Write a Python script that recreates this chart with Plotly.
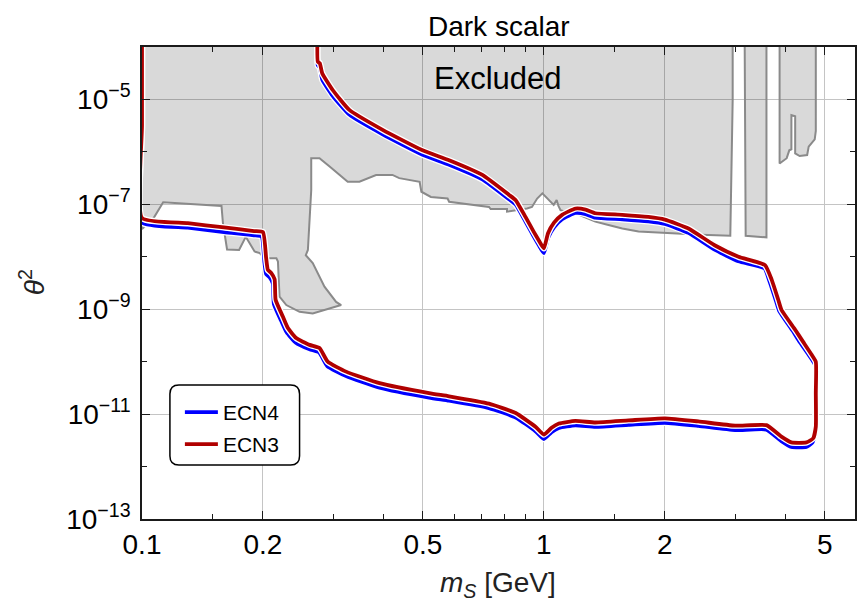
import plotly.graph_objects as go

# ---------------------------------------------------------------------------
# Sensitivity contours: scalar mass m_S [GeV] and log10(theta^2)
# ---------------------------------------------------------------------------
ecn3_mass = [0.1, 0.1, 0.1, 0.13, 0.16, 0.19, 0.2, 0.2037, 0.2057, 0.2098,
             0.2138, 0.2150, 0.2241, 0.2307, 0.2419, 0.2612, 0.2765, 0.2898, 0.322, 0.39,
             0.518, 0.581, 0.73, 0.851, 0.953, 1.0, 1.045, 1.09, 1.198, 1.343,
             1.625, 2.0, 2.424, 2.99, 3.58, 3.90, 4.13, 4.50, 4.68, 4.75,
             4.75, 4.75, 4.64, 4.38, 4.22, 3.90, 3.83, 3.69, 3.55, 3.05,
             2.66, 2.29, 2.0, 1.82, 1.567, 1.343, 1.27, 1.198, 1.11, 1.06,
             1.024, 1.0, 0.97, 0.943, 0.90, 0.851, 0.819, 0.703, 0.581, 0.499,
             0.397, 0.328, 0.2982, 0.2808, 0.277, 0.2738, 0.2738]
ecn3_log_theta2 = [-3.5, -5.5, -7.26, -7.36, -7.44, -7.51, -7.53, -8.03, -8.25, -8.31,
                   -8.43, -8.82, -9.14, -9.36, -9.55, -9.68, -9.74, -10.0, -10.19, -10.41,
                   -10.6, -10.66, -10.80, -10.98, -11.24, -11.39, -11.26, -11.18, -11.13, -11.16,
                   -11.12, -11.08, -11.14, -11.22, -11.21, -11.43, -11.54, -11.54, -11.46, -11.24,
                   -10.6, -10.0, -9.87, -9.58, -9.39, -9.01, -8.82, -8.44, -8.16, -8.0,
                   -7.78, -7.46, -7.29, -7.24, -7.2, -7.17, -7.1, -7.08, -7.2, -7.35,
                   -7.55, -7.84, -7.68, -7.52, -7.24, -6.92, -6.82, -6.44, -6.16, -5.97,
                   -5.58, -5.2, -4.82, -4.5, -4.31, -4.28, -3.5]

ecn4_mass = [0.1, 0.1, 0.1, 0.13, 0.16, 0.19, 0.1985, 0.2017, 0.2037, 0.2078,
             0.2117, 0.2129, 0.2220, 0.2290, 0.2410, 0.2612, 0.2760, 0.2890, 0.322, 0.39,
             0.518, 0.581, 0.73, 0.851, 0.953, 1.0, 1.045, 1.09, 1.198, 1.343,
             1.625, 2.0, 2.424, 2.99, 3.58, 3.90, 4.13, 4.50, 4.66, 4.73,
             4.73, 4.72, 4.58, 4.31, 4.16, 3.85, 3.78, 3.64, 3.54, 3.05,
             2.66, 2.29, 2.0, 1.82, 1.567, 1.343, 1.27, 1.198, 1.11, 1.06,
             1.024, 1.0, 0.97, 0.943, 0.90, 0.851, 0.819, 0.703, 0.581, 0.499,
             0.397, 0.328, 0.2982, 0.2808, 0.277, 0.2738, 0.2738]
ecn4_log_theta2 = [-3.5, -5.5, -7.345, -7.445, -7.53, -7.59, -7.615, -8.11, -8.33, -8.39,
                   -8.51, -8.90, -9.22, -9.44, -9.635, -9.765, -9.825, -10.085, -10.275, -10.495,
                   -10.685, -10.745, -10.885, -11.065, -11.325, -11.475, -11.345, -11.265, -11.215, -11.245,
                   -11.205, -11.165, -11.225, -11.305, -11.295, -11.515, -11.625, -11.625, -11.54, -11.31,
                   -10.6, -10.05, -9.89, -9.60, -9.41, -9.03, -8.84, -8.46, -8.22, -8.085,
                   -7.865, -7.545, -7.375, -7.325, -7.285, -7.255, -7.185, -7.165, -7.285, -7.44,
                   -7.64, -7.93, -7.77, -7.61, -7.33, -7.005, -6.905, -6.525, -6.245, -6.055,
                   -5.665, -5.29, -4.93, -4.62, -4.39, -4.35, -3.5]

# ---------------------------------------------------------------------------
# Excluded regions (existing bounds), outlines as mass / log10(theta^2)
# ---------------------------------------------------------------------------
excl_main_mass = [0.1, 0.1, 0.1067, 0.1129, 0.1577, 0.159, 0.1628, 0.1744, 0.1812, 0.1906,
                  0.1963, 0.2020, 0.2078, 0.2160, 0.2179, 0.2199, 0.2286, 0.2467, 0.266, 0.2872,
                  0.313, 0.3041, 0.2845, 0.266, 0.2556, 0.2587, 0.2637, 0.2637, 0.2765, 0.293,
                  0.325, 0.3475, 0.3823, 0.42, 0.4366, 0.4907, 0.4957, 0.5234, 0.576, 0.581,
                  0.7302, 0.7373, 0.8096, 0.8096, 0.8665, 0.9078, 0.934, 0.9623, 0.9914, 1.024,
                  1.058, 1.076, 1.087, 1.1, 1.1317, 1.198, 1.29, 1.343, 1.44, 1.567,
                  1.72, 2.0, 2.46, 2.91, 2.95, 2.95]
excl_main_log = [-3.9, -7.47, -7.27, -6.96, -7.03, -7.36, -7.86, -7.87, -7.62, -7.90,
                 -7.93, -8.03, -8.03, -8.03, -8.09, -8.76, -8.92, -9.05, -9.08, -9.01,
                 -8.92, -8.86, -8.57, -8.12, -7.97, -7.87, -6.73, -6.12, -6.12, -6.28,
                 -6.57, -6.57, -6.44, -6.44, -6.50, -6.57, -6.76, -6.86, -6.89, -6.95,
                 -7.05, -7.09, -7.09, -7.14, -7.11, -7.08, -7.05, -6.89, -6.79, -6.89,
                 -7.01, -6.92, -7.03, -7.11, -7.14, -7.17, -7.27, -7.33, -7.39, -7.46,
                 -7.52, -7.55, -7.58, -7.60, -5.0, -3.9]

excl_strip_mass = [3.16, 3.178, 3.58, 3.58]
excl_strip_log = [-3.9, -7.60, -7.63, -3.9]

excl_high_mass = [3.86, 3.86, 4.02, 4.08, 4.13, 4.13, 4.22, 4.22, 4.33, 4.52,
                  4.56, 4.72, 4.75, 4.75]
excl_high_log = [-3.9, -6.22, -6.12, -5.97, -5.95, -5.30, -5.32, -6.03, -6.08, -6.06,
                 -5.90, -5.76, -5.60, -3.9]

# ---------------------------------------------------------------------------
# Axis ticks
# ---------------------------------------------------------------------------
x_tick_vals = [0.1, 0.2, 0.5, 1, 2, 5]
x_tick_text = ["0.1", "0.2", "0.5", "1", "2", "5"]
x_minor_vals = [0.15, 0.3, 0.4, 0.6, 0.7, 0.8, 0.9, 1.5, 3, 4]
y_tick_exps = [-13, -11, -9, -7, -5]
y_minor_exps = [-12, -10, -8, -6, -4]

FONT = "Arial, 'Liberation Sans', sans-serif"
BLUE = "#0000ff"
RED = "#b00000"
EXCL_FILL = "rgba(0,0,0,0.15)"
EXCL_EDGE = "#8a8a8a"


def pow10(vals):
    return [10 ** v for v in vals]


fig = go.Figure()

# shaded exclusion regions
for mass, logv in [(excl_main_mass, excl_main_log),
                   (excl_strip_mass, excl_strip_log),
                   (excl_high_mass, excl_high_log)]:
    fig.add_trace(go.Scatter(
        x=mass, y=pow10(logv), mode="lines", fill="toself",
        fillcolor=EXCL_FILL, line=dict(color=EXCL_EDGE, width=2),
        showlegend=False, hoverinfo="skip"))

# contours with a thin white halo underneath each line
for name, mass, logv, color, leg in [("ECN4", ecn4_mass, ecn4_log_theta2, BLUE, "legend"),
                                     ("ECN3", ecn3_mass, ecn3_log_theta2, RED, "legend2")]:
    fig.add_trace(go.Scatter(
        x=mass, y=pow10(logv), mode="lines",
        line=dict(color="white", width=6.4, shape="spline", smoothing=0.45),
        showlegend=False, hoverinfo="skip"))
    fig.add_trace(go.Scatter(
        x=mass, y=pow10(logv), mode="lines", name=name, legend=leg,
        line=dict(color=color, width=3.8, shape="spline", smoothing=0.45)))

axis_common = dict(
    type="log", showline=True, linecolor="#1a1a1a", linewidth=1.6, mirror="allticks",
    ticks="inside", ticklen=8, tickwidth=1.3, tickcolor="#1a1a1a",
    showgrid=True, gridcolor="#c4c4c4", gridwidth=1, zeroline=False,
    tickfont=dict(family=FONT, size=28, color="black"),
)

fig.update_xaxes(
    **axis_common, range=[-1, 0.7742],
    tickmode="array", tickvals=x_tick_vals, ticktext=x_tick_text,
    ticklabelstandoff=0,
    minor=dict(tickmode="array", tickvals=x_minor_vals, ticks="inside",
               ticklen=5, tickwidth=1.2, tickcolor="#1a1a1a", showgrid=False),
)
fig.update_yaxes(
    **axis_common, range=[-13, -4],
    tickmode="array", tickvals=pow10(y_tick_exps),
    ticktext=[f"10<sup>\u2212{abs(e)}</sup>" for e in y_tick_exps],
    ticklabelstandoff=4,
    minor=dict(tickmode="array", tickvals=pow10(y_minor_exps), ticks="inside",
               ticklen=5, tickwidth=1.2, tickcolor="#1a1a1a", showgrid=False),
)

# plot-area geometry (pixels) used to place text and the legend frame
L, T, W, H = 142, 47, 715, 472


def to_paper(px, py):
    return (px - L) / W, (T + H - py) / H


def rounded_box(x0, y0, x1, y1, r):
    p = lambda x, y: "%.5f,%.5f" % to_paper(x, y)
    return ("M" + p(x0 + r, y0) + " L" + p(x1 - r, y0) + " Q" + p(x1, y0) + " " + p(x1, y0 + r) +
            " L" + p(x1, y1 - r) + " Q" + p(x1, y1) + " " + p(x1 - r, y1) +
            " L" + p(x0 + r, y1) + " Q" + p(x0, y1) + " " + p(x0, y1 - r) +
            " L" + p(x0, y0 + r) + " Q" + p(x0, y0) + " " + p(x0 + r, y0) + " Z")


fig.add_shape(type="path", xref="paper", yref="paper",
              path=rounded_box(170, 385, 300, 465, 9),
              fillcolor="white", line=dict(color="black", width=1.5), layer="above")


def label(text, px, py, size, angle=0, color="black"):
    x, y = to_paper(px, py)
    fig.add_annotation(text=text, xref="paper", yref="paper", x=x, y=y,
                       xanchor="center", yanchor="middle", textangle=angle,
                       showarrow=False, font=dict(family=FONT, size=size, color=color))


label("Excluded", 499, 78, 31)
label("Dark scalar", 500, 27, 28)
label("<i>m</i><sub><i>S</i></sub> [GeV]", 499, 584, 28, color="#222")
label("<i>\u03b8</i><sup>2</sup>", 32, 282, 28, angle=-90, color="#222")

legend_style = dict(xanchor="left", yanchor="top", bgcolor="rgba(0,0,0,0)",
                    borderwidth=0, itemwidth=33,
                    font=dict(family=FONT, size=21, color="black"))
lx, ly1 = to_paper(180, 392)
_, ly2 = to_paper(180, 424)

fig.update_layout(
    width=859, height=606,
    margin=dict(l=L, r=859 - L - W, t=T, b=606 - T - H),
    paper_bgcolor="white", plot_bgcolor="white",
    font=dict(family=FONT, color="black"),
    legend=dict(x=lx, y=ly1, **legend_style),
    legend2=dict(x=lx, y=ly2, **legend_style),
)

fig.write_html("out.html")
